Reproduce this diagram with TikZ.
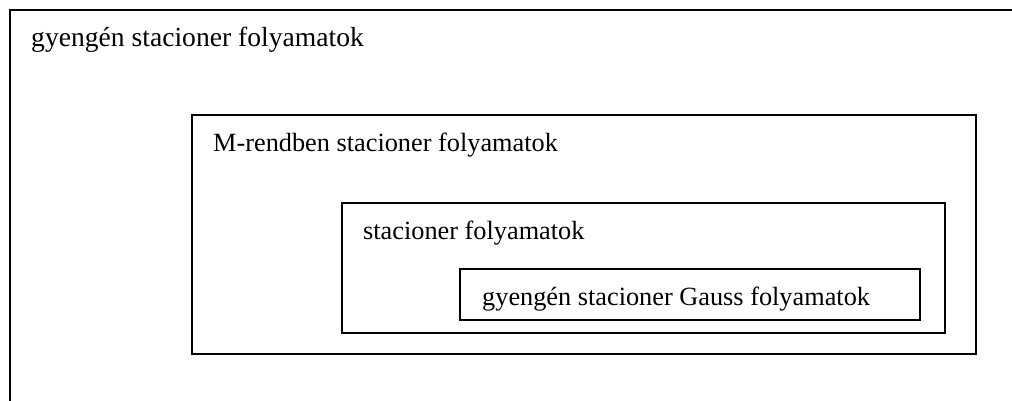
\documentclass[tikz,border=0pt]{standalone}
\usepackage{fontspec}
\setmainfont{Liberation Serif}
\begin{document}
\begin{tikzpicture}[x=1pt,y=-1pt,
  frame/.style={draw=black,line width=1.6pt,inner sep=0pt,outer sep=0pt},
  lbl/.style={anchor=base west,inner sep=0pt,font=\fontsize{26.3}{30}\selectfont}]
\useasboundingbox (0,0) rectangle (1012,401);
% outer (open) frame
\coordinate (ol) at (10,401);
\coordinate (otl) at (10,10);
\coordinate (otr) at (1012,10);
\draw[line width=1.8pt] (ol) -- (otl) -- (otr);
\node[lbl,font=\fontsize{27.6}{32}\selectfont] (t1) at (31,47) {gyengén stacioner folyamatok};
% box 2
\node[frame,minimum width=784pt,minimum height=239pt,anchor=north west] (b2) at (192,115) {};
\node[lbl] (t2) at (213,151) {M-rendben stacioner folyamatok};
% box 3
\node[frame,minimum width=603pt,minimum height=130pt,anchor=north west] (b3) at (342,203) {};
\node[lbl] (t3) at (363,239) {stacioner folyamatok};
% box 4
\node[frame,minimum width=460pt,minimum height=51pt,anchor=north west] (b4) at (460,269) {};
\node[lbl] (t4) at (482,305) {gyengén stacioner Gauss folyamatok};
\end{tikzpicture}
\end{document}
